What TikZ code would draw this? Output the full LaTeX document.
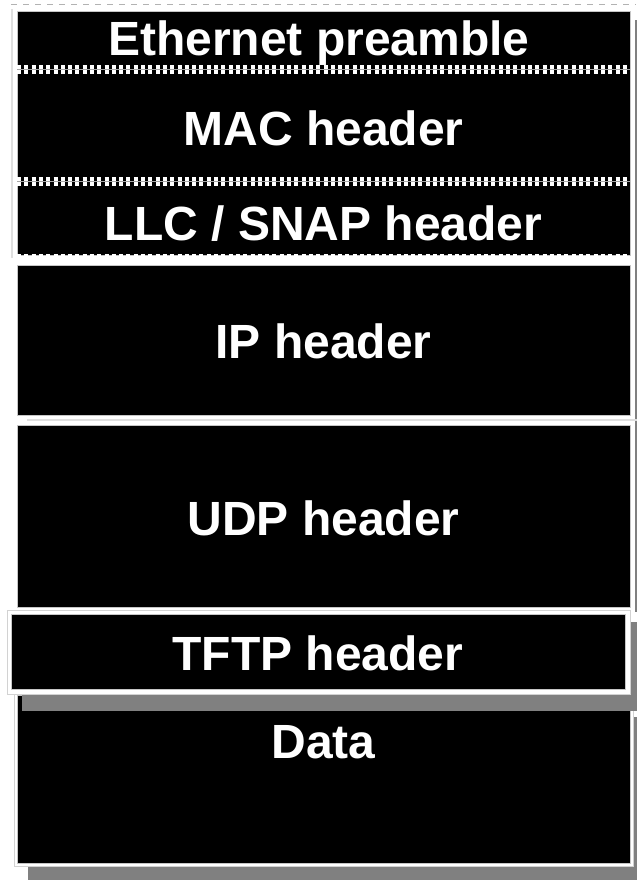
\documentclass[tikz,border=0pt]{standalone}
\usepackage{fontspec}
\setmainfont{Liberation Sans}
\tikzset{
  hdrbox/.style={fill=black, draw=gray!45, line width=0.5pt},
  hdrframe/.style={fill=white, draw=gray!35, line width=0.4pt},
  hdrshadow/.style={fill=gray},
  hdrlabel/.style={text=white, anchor=base, inner sep=0pt, font=\fontsize{24}{28}\selectfont\bfseries},
  sepdots/.style={white, line width=4.5pt, dash pattern=on 2pt off 1.65pt}
}
\begin{document}
\begin{tikzpicture}[x=0.5pt, y=-0.5pt, line join=miter]
  \def\xl{17} \def\xr{630} \def\xm{323.5}
  \useasboundingbox (0,0) rectangle (637,880);
  \fill[white] (0,0) rectangle (637,880);
  % frame of the link layer block
  \draw[gray!60, line width=0.6pt, dashed] (11,4.5)--(636,4.5);
  \draw[gray!25, line width=0.6pt] (12,9)--(12,258);
  \draw[gray, line width=1pt] (636,20)--(636,612);
  \draw[hdrbox] (\xl,11) rectangle (\xr,255);
  \foreach \y in {69,181}{
    \draw[sepdots] (\xl,\y)--(\xr,\y);
    \draw[gray!70, line width=0.5pt] (\xl,\y)--(\xr,\y);
  }
  \draw[white, line width=1pt, dash pattern=on 2pt off 1.65pt] (\xl,254.5)--(\xr,254.5);
  % ip and udp
  \draw[hdrbox] (\xl,265) rectangle (\xr,415);
  \draw[gray!25, line width=0.8pt] (27,420)--(637,420);
  \draw[hdrbox] (\xl,425) rectangle (\xr,607);
  % data with its shadow
  \fill[hdrshadow] (28,717) rectangle (650,900);
  \draw[hdrframe] (14,692) rectangle (633,866);
  \draw[hdrbox] (\xl,695) rectangle (\xr,863);
  % tftp, shifted to the left
  \fill[hdrshadow] (22,622) rectangle (640,711);
  \draw[hdrframe] (7,610) rectangle (630,694);
  \draw[hdrbox] (11,614) rectangle (625,689);
  % labels
  \node[hdrlabel] (ethpre) at (319,55) {Ethernet preamble};
  \node[hdrlabel] (machdr) at (\xm,145) {MAC header};
  \node[hdrlabel] (llchdr) at (\xm,240) {LLC / SNAP header};
  \node[hdrlabel] (iphdr) at (\xm,358) {IP header};
  \node[hdrlabel] (udphdr) at (\xm,535) {UDP header};
  \node[hdrlabel] (tftphdr) at (318,670) {TFTP header};
  \node[hdrlabel] (data) at (\xm,758) {Data};
\end{tikzpicture}
\end{document}
